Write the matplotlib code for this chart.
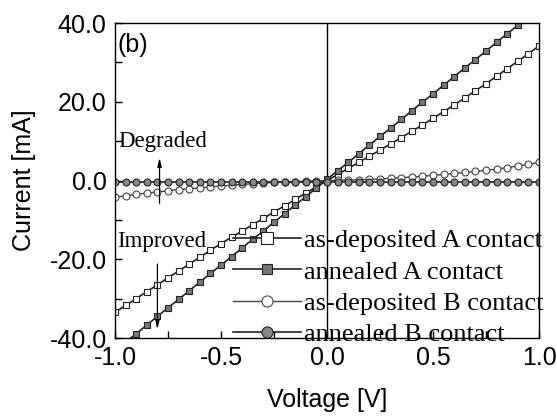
import matplotlib
matplotlib.use('Agg')
import matplotlib.pyplot as plt
from matplotlib.ticker import MultipleLocator, FormatStrFormatter

plt.rcParams['font.family'] = ['Liberation Sans', 'DejaVu Sans']
plt.rcParams['axes.unicode_minus'] = False

# voltage sweep, 0.05 V steps
voltage = [-1.00, -0.95, -0.90, -0.85, -0.80, -0.75, -0.70, -0.65, -0.60, -0.55,
           -0.50, -0.45, -0.40, -0.35, -0.30, -0.25, -0.20, -0.15, -0.10, -0.05,
           0.00, 0.05, 0.10, 0.15, 0.20, 0.25, 0.30, 0.35, 0.40, 0.45,
           0.50, 0.55, 0.60, 0.65, 0.70, 0.75, 0.80, 0.85, 0.90, 0.95, 1.00]

asdep_A = [-33.5, -31.7, -30.0, -28.2, -26.5, -24.7, -23.0, -21.2, -19.5, -17.7,
           -16.0, -14.4, -12.8, -11.2, -9.6, -8.0, -6.4, -4.8, -3.2, -1.6,
           0.0, 1.5, 3.1, 4.6, 6.2, 7.7, 9.3, 10.9, 12.5, 14.1,
           15.8, 17.5, 19.2, 21.0, 22.8, 24.6, 26.5, 28.4, 30.3, 32.2, 34.2]

annealed_A = [-43.2, -41.0, -38.9, -36.7, -34.5, -32.3, -30.2, -28.0, -25.8, -23.6,
              -21.5, -19.3, -17.1, -14.9, -12.8, -10.6, -8.4, -6.2, -4.1, -1.9,
              0.3, 2.5, 4.6, 6.8, 9.0, 11.2, 13.3, 15.5, 17.7, 19.9,
              22.0, 24.2, 26.4, 28.6, 30.7, 32.9, 35.1, 37.3, 39.4, 41.6, 43.8]

asdep_B = [-4.2, -3.9, -3.5, -3.2, -2.9, -2.6, -2.3, -2.1, -1.9, -1.6,
           -1.4, -1.2, -1.0, -0.8, -0.6, -0.5, -0.35, -0.25, -0.15, -0.05,
           0.0, 0.05, 0.1, 0.2, 0.3, 0.4, 0.55, 0.7, 0.9, 1.1,
           1.3, 1.55, 1.8, 2.05, 2.3, 2.6, 2.9, 3.3, 3.7, 4.1, 4.6]

annealed_B = [-0.3, -0.3, -0.3, -0.3, -0.3, -0.3, -0.3, -0.3, -0.3, -0.3,
              -0.3, -0.3, -0.3, -0.3, -0.3, -0.3, -0.3, -0.3, -0.3, -0.3,
              -0.3, -0.3, -0.3, -0.3, -0.3, -0.3, -0.3, -0.3, -0.3, -0.3,
              -0.3, -0.3, -0.3, -0.3, -0.3, -0.3, -0.3, -0.3, -0.3, -0.3, -0.3]

labels = ['as-deposited A contact', 'annealed A contact',
          'as-deposited B contact', 'annealed B contact']

fig = plt.figure(figsize=(5.57, 4.17), dpi=100)
ax = fig.add_axes([0.2065, 0.1894, 0.7612, 0.7554])

ax.axvline(0, color='black', lw=1.0, zorder=1)

ax.plot(voltage, asdep_A, '-', color='#222222', lw=1.2, marker='s', ms=5,
        mfc='white', mec='#222222', mew=0.8, label=labels[0])
ax.plot(voltage, annealed_A, '-', color='#222222', lw=1.2, marker='s', ms=4.5,
        mfc='#777777', mec='#222222', mew=0.8, label=labels[1])
ax.plot(voltage, asdep_B, '-', color='#444444', lw=1.0, marker='o', ms=5,
        mfc='white', mec='#444444', mew=0.8, label=labels[2])
ax.plot(voltage, annealed_B, '-', color='#222222', lw=1.2, marker='o', ms=5,
        mfc='#888888', mec='#222222', mew=0.8, label=labels[3])

ax.set_xlim(-1.0, 1.0)
ax.set_ylim(-40, 40)
ax.xaxis.set_major_locator(MultipleLocator(0.5))
ax.xaxis.set_minor_locator(MultipleLocator(0.25))
ax.yaxis.set_major_locator(MultipleLocator(20))
ax.yaxis.set_minor_locator(MultipleLocator(10))
ax.xaxis.set_major_formatter(FormatStrFormatter('%.1f'))
ax.yaxis.set_major_formatter(FormatStrFormatter('%.1f'))
ax.tick_params(which='both', direction='in', length=5, width=1,
               top=False, right=False, labelsize=18, pad=6)
for s in ax.spines.values():
    s.set_linewidth(1.0)

ax.set_xlabel('Voltage [V]', fontsize=18, labelpad=13)
ax.set_ylabel('Current [mA]', fontsize=18, labelpad=10)

ax.text(0.005, 0.93, '(b)', transform=ax.transAxes, fontsize=18,
        ha='left', va='center')

serif = ['Liberation Serif', 'DejaVu Serif']
ax.text(-0.985, 9.8, 'Degraded', family=serif, fontsize=16.5, ha='left', va='center')
ax.text(-0.99, -15.6, 'Improved', family=serif, fontsize=16.5, ha='left', va='center')
ax.annotate('', xy=(-0.79, 6.5), xytext=(-0.79, -6.5),
            arrowprops=dict(arrowstyle='-|>,head_length=0.5,head_width=0.12',
                            color='black', lw=0.9))
ax.annotate('', xy=(-0.80, -38.5), xytext=(-0.80, -20.5),
            arrowprops=dict(arrowstyle='-|>,head_length=0.5,head_width=0.12',
                            color='black', lw=0.9))

leg = ax.legend(loc='lower right', bbox_to_anchor=(1.035, -0.06), frameon=False,
                prop={'family': serif, 'size': 19}, handlelength=2.6,
                handletextpad=0.1, labelspacing=0.3, markerscale=1.6,
                numpoints=1, borderaxespad=0.0)

fig.savefig('out.png', dpi=100)
